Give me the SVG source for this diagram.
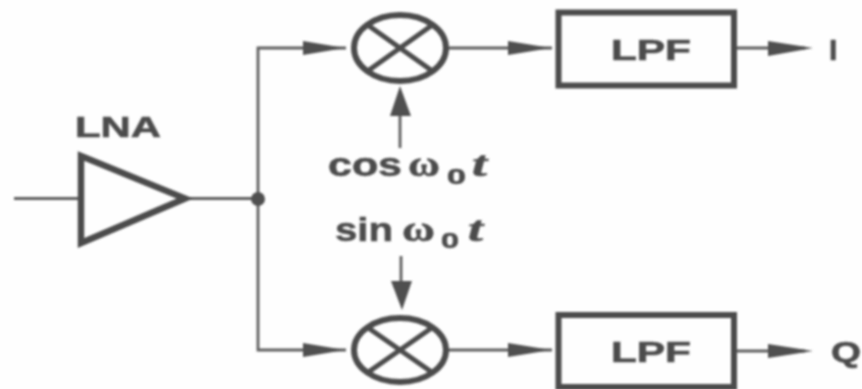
<svg xmlns="http://www.w3.org/2000/svg" width="862" height="389" viewBox="0 0 862 389">
<defs><filter id="b" x="-5%" y="-5%" width="110%" height="110%"><feGaussianBlur stdDeviation="0.8"/></filter></defs>
<style>
.w{fill:none;stroke:#5e5e5e;stroke-width:2.8}
.a{fill:#505050;stroke:none}
.n{fill:none;stroke:#4c4c4c;stroke-width:6}
.x{fill:none;stroke:#4c4c4c;stroke-width:5}
.t{fill:none;stroke:#4c4c4c;stroke-width:6.500}
text{font-family:"Liberation Sans",Arial,sans-serif;fill:#4c4c4c;font-weight:700;stroke:#4c4c4c;stroke-width:.6}
.l{font-size:30px}
.f{font-size:34px}
.i{font-family:"Liberation Serif",serif;font-style:italic;font-size:36px}
.g{font-family:"Liberation Serif",serif;font-size:36px}
.s{font-size:22px}
</style>
<rect width="862" height="389" fill="#fefefe"/>
<g filter="url(#b)">
<g id="connectors">
<path class="w" d="M14 198.500H80M188 198.500H258M346 48H258V350H346M447 48H552M735 48H805M447 350H552M735 351H805M400 148V100M401 256V295"/>
<polygon class="a" points="345,48 303,41 303,55"/>
<polygon class="a" points="345,350 303,343 303,357"/>
<polygon class="a" points="551,48 508,41 508,55"/>
<polygon class="a" points="551,350 508,343 508,357"/>
<polygon class="a" points="813,48 768,41 768,56"/>
<polygon class="a" points="813,351 768,344 768,358"/>
<polygon class="a" points="400,86 390,116 411,116"/>
<polygon class="a" points="402,310 391,281 412,281"/>
<circle class="a" cx="258" cy="199" r="7"/>
</g>
<g id="lna"><polygon class="t" points="81,156 185,198.500 81,243"/><text x="75" y="137" style="font-size:30px" textLength="86" lengthAdjust="spacingAndGlyphs">LNA</text></g>
<g id="mixer-i"><ellipse class="n" cx="400" cy="48" rx="46" ry="33"/><path class="x" d="M367 24.500L433 71.500M433 24.500L367 71.500"/></g>
<g id="mixer-q"><ellipse class="n" cx="400" cy="350" rx="46" ry="32"/><path class="x" d="M367 327L433 373M433 327L367 373"/></g>
<g id="lpf-i"><rect class="n" x="558.500" y="12.500" width="175.500" height="73"/><text x="611" y="60" class="l" textLength="80" lengthAdjust="spacingAndGlyphs">LPF</text></g>
<g id="lpf-q"><rect class="n" x="558.500" y="315" width="175.500" height="72"/><text x="611" y="362" class="l" textLength="80" lengthAdjust="spacingAndGlyphs">LPF</text></g>
<g id="labels">
<text x="829" y="60" class="l">I</text>
<text x="831" y="362" class="l" textLength="30" lengthAdjust="spacingAndGlyphs">Q</text>
<text x="328" y="176" class="f" textLength="74" lengthAdjust="spacingAndGlyphs">cos</text>
<text x="335" y="241" class="f" textLength="58" lengthAdjust="spacingAndGlyphs">sin</text>
<text x="408" y="176" class="g" textLength="32" lengthAdjust="spacingAndGlyphs">ω</text><text x="447" y="184" class="s" textLength="19" lengthAdjust="spacingAndGlyphs">0</text><text x="472" y="176" class="i" textLength="15" lengthAdjust="spacingAndGlyphs">t</text>
<text x="402" y="241" class="g" textLength="33" lengthAdjust="spacingAndGlyphs">ω</text><text x="441" y="248" class="s" textLength="18" lengthAdjust="spacingAndGlyphs">0</text><text x="468" y="241" class="i" textLength="15" lengthAdjust="spacingAndGlyphs">t</text>
</g>
</g>
</svg>
